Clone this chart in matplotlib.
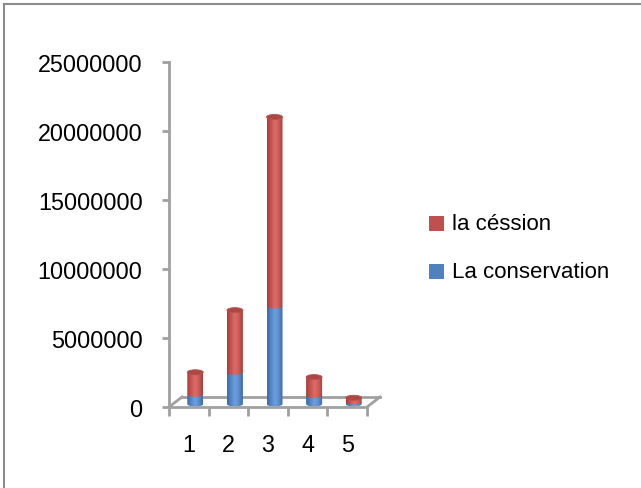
import numpy as np
import matplotlib
matplotlib.use("Agg")
import matplotlib.pyplot as plt
from matplotlib.colors import LinearSegmentedColormap
from matplotlib.lines import Line2D
from matplotlib.patches import Ellipse, PathPatch, Rectangle
from matplotlib.path import Path
from matplotlib.transforms import ScaledTranslation

plt.rcParams["font.family"] = ["Liberation Sans", "DejaVu Sans"]

categories = ["1", "2", "3", "4", "5"]
series_names = ["la céssion", "La conservation"]
conservation = [700000, 2300000, 7100000, 600000, 150000]
cession = [1600000, 4500000, 13700000, 1350000, 300000]
y_ticks = [0, 5000000, 10000000, 15000000, 20000000, 25000000]

RED_CMAP = LinearSegmentedColormap.from_list(
    "red_cyl", ["#a43f3c", "#c8524f", "#d96e6a", "#cd5b57", "#a43f3c"])
BLUE_CMAP = LinearSegmentedColormap.from_list(
    "blue_cyl", ["#3d69a3", "#5287c8", "#6d9fdc", "#5a8dcc", "#3d69a3"])
RED_CAP = "#ad4744"
RED_KEY = "#c0504d"
BLUE_KEY = "#4f81bd"
GRID_GREY = "#a0a0a0"

W, H = 641, 489
fig = plt.figure(figsize=(W / 100, H / 100), dpi=100)
fig.patch.set_facecolor("white")

# outer chart frame (top and left edges only are visible)
fig.add_artist(Line2D([4 / W, 1], [1 - 5 / H, 1 - 5 / H], color="#8c8c8c", lw=1.5))
fig.add_artist(Line2D([4 / W, 4 / W], [0, 1 - 5 / H], color="#8c8c8c", lw=1.5))

ax = fig.add_axes([169 / W, 1 - 408 / H, (367 - 169) / W, (408 - 63) / H])
ax.set_xlim(0.5, 5.5)
ax.set_ylim(0, 25000000)
ax.patch.set_visible(False)
for side in ("top", "right"):
    ax.spines[side].set_visible(False)
ax.spines["left"].set_color(GRID_GREY)
ax.spines["left"].set_linewidth(2)
ax.spines["bottom"].set_color(GRID_GREY)
ax.spines["bottom"].set_linewidth(2)
ax.spines["left"].set_bounds(0, 25000000)

ax.set_yticks(y_ticks)
ax.set_yticklabels([str(v) for v in y_ticks])
ax.tick_params(axis="y", length=5, width=2, color=GRID_GREY, pad=14,
               labelsize=16.8, labelcolor="black")
ax.set_xticks(np.arange(0.5, 6.0, 1.0))
ax.set_xticklabels([])
ax.tick_params(axis="x", which="major", length=6.5, width=2, color=GRID_GREY)
ax.set_xticks(np.arange(1, 6), minor=True)
ax.set_xticklabels(categories, minor=True)
ax.tick_params(axis="x", which="minor", length=0, pad=19, labelsize=16.8,
               labelcolor="black")

# floor of the 3D plot area: back edge and the two side edges
px_y = 25000000 / 345.0          # value per pixel
px_x = 5.0 / 198.0               # category units per pixel
dx, dy = 13 * px_x, 10 * px_y
ax.plot([0.5 + dx, 5.5 + dx], [dy, dy], color=GRID_GREY, lw=2, clip_on=False)
ax.plot([0.5, 0.5 + dx], [0, dy], color=GRID_GREY, lw=2, clip_on=False)
ax.plot([5.5, 5.5 + dx], [0, dy], color=GRID_GREY, lw=2, clip_on=False)

# cylinders sit in the middle of the floor depth
shift = ax.transData + ScaledTranslation(0.065, 0.03, fig.dpi_scale_trans)
half_w = 8 * px_x
ell_h = 5 * px_y
theta = np.linspace(np.pi, 2 * np.pi, 40)


def segment_path(xc, y0, y1):
    arc_x = xc + half_w * np.cos(theta)
    arc_y = y0 + 0.5 * ell_h * np.sin(theta)
    verts = [(xc - half_w, y1)] + list(zip(arc_x, arc_y)) + [(xc + half_w, y1),
                                                            (xc - half_w, y1)]
    codes = [Path.MOVETO] + [Path.LINETO] * (len(verts) - 2) + [Path.CLOSEPOLY]
    return Path(verts, codes)


def cylinder_segment(xc, y0, y1, cmap):
    patch = PathPatch(segment_path(xc, y0, y1), facecolor="none", edgecolor="none",
                      transform=shift)
    ax.add_patch(patch)
    grad = np.linspace(0, 1, 64).reshape(1, -1)
    im = ax.imshow(grad, cmap=cmap, aspect="auto", interpolation="bilinear",
                   extent=[xc - half_w, xc + half_w, y0 - ell_h, y1],
                   transform=shift, clip_on=True, zorder=2)
    im.set_clip_path(patch)


for i, (cons, cess) in enumerate(zip(conservation, cession)):
    xc = i + 1
    top = cons + cess
    cylinder_segment(xc, 0, cons, BLUE_CMAP)
    cylinder_segment(xc, cons, top, RED_CMAP)
    ax.add_patch(Ellipse((xc, top), 2 * half_w, ell_h, facecolor=RED_CAP,
                         edgecolor="#b9524f", lw=0.6, transform=shift, zorder=3))

ax.set_xlim(0.5, 5.5)
ax.set_ylim(0, 25000000)

# legend keys and labels
for name, color, ytop in zip(series_names, [RED_KEY, BLUE_KEY], [217, 265]):
    fig.add_artist(Rectangle((429 / W, 1 - (ytop + 15) / H), 15 / W, 15 / H,
                             facecolor=color, edgecolor="none"))
    fig.text(452 / W, 1 - (ytop + 7.5) / H, name, fontsize=16, va="center",
             ha="left", color="black")

fig.savefig("out.png", dpi=100)
